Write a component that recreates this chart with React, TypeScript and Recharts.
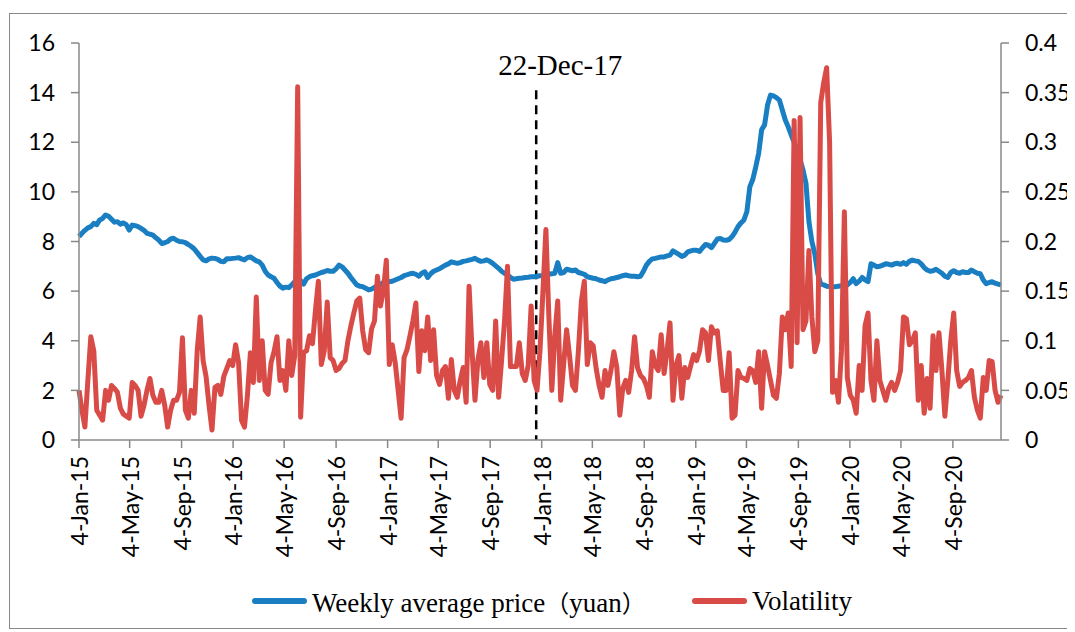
import { LineChart, Line, XAxis, YAxis, ReferenceLine, Legend } from "recharts";

// weekly observations, first week = 4-Jan-15
const price = [
  8.2, 8.33, 8.45, 8.55, 8.6, 8.73, 8.68, 8.87, 8.93, 9.07,
  9.02, 8.9, 8.78, 8.8, 8.7, 8.75, 8.68, 8.46, 8.66, 8.64,
  8.6, 8.53, 8.45, 8.33, 8.3, 8.26, 8.15, 8.06, 7.92, 7.95,
  8.0, 8.1, 8.13, 8.05, 8.0, 7.99, 7.95, 7.88, 7.8, 7.7,
  7.55, 7.4, 7.26, 7.22, 7.3, 7.33, 7.32, 7.28, 7.2, 7.18,
  7.3, 7.3, 7.32, 7.33, 7.35, 7.3, 7.26, 7.35, 7.38, 7.3,
  7.22, 7.18, 7.05, 6.8, 6.65, 6.58, 6.52, 6.35, 6.2, 6.12,
  6.16, 6.14, 6.25, 6.38, 6.45, 6.42, 6.28, 6.5, 6.58, 6.62,
  6.65, 6.7, 6.75, 6.78, 6.83, 6.8, 6.8, 6.9, 7.05, 6.98,
  6.85, 6.72, 6.55, 6.4, 6.25, 6.2, 6.18, 6.12, 6.05, 6.08,
  6.15, 6.2, 6.25, 6.35, 6.4, 6.38, 6.4, 6.45, 6.5, 6.55,
  6.62, 6.66, 6.7, 6.72, 6.68, 6.6, 6.72, 6.78, 6.55, 6.7,
  6.8, 6.85, 6.9, 6.98, 7.05, 7.1, 7.18, 7.15, 7.12, 7.15,
  7.2, 7.22, 7.25, 7.28, 7.32, 7.25, 7.2, 7.22, 7.26, 7.2,
  7.12, 7.02, 6.92, 6.8, 6.72, 6.65, 6.55, 6.48, 6.5, 6.52,
  6.53, 6.55, 6.56, 6.58, 6.58, 6.6, 6.62, 6.63, 6.65, 6.68,
  6.7, 6.72, 7.15, 6.72, 6.75, 6.88, 6.85, 6.82, 6.85, 6.75,
  6.72, 6.68, 6.58, 6.55, 6.52, 6.5, 6.45, 6.42, 6.38, 6.45,
  6.5, 6.52, 6.55, 6.58, 6.62, 6.65, 6.62, 6.6, 6.6, 6.58,
  6.6, 6.8, 7.05, 7.2, 7.3, 7.32, 7.35, 7.38, 7.38, 7.42,
  7.45, 7.62, 7.55, 7.48, 7.4, 7.45, 7.58, 7.62, 7.65, 7.65,
  7.6, 7.75, 7.88, 7.85, 7.75, 7.92, 8.1, 8.12, 8.06, 8.05,
  8.08, 8.2, 8.38, 8.6, 8.75, 8.87, 9.2, 10.2, 10.5, 11.0,
  11.56, 12.5, 12.7, 13.5, 13.9, 13.87, 13.8, 13.7, 13.3, 12.9,
  12.62, 12.3, 12.0, 11.7, 11.3, 10.88, 10.35, 8.8, 8.0, 7.5,
  6.7, 6.28, 6.25, 6.2, 6.18, 6.18, 6.18, 6.2, 6.22, 6.25,
  6.25, 6.35, 6.5, 6.3, 6.4, 6.55, 6.45, 6.38, 7.1, 7.05,
  6.98, 7.0, 7.05, 7.1, 7.08, 7.05, 7.1, 7.12, 7.08, 7.15,
  7.08, 7.2, 7.25, 7.22, 7.2, 7.1, 6.95, 6.85, 6.8, 6.82,
  6.88, 6.8, 6.72, 6.6, 6.55, 6.75, 6.82, 6.75, 6.72, 6.78,
  6.75, 6.75, 6.85, 6.78, 6.72, 6.7, 6.45, 6.3, 6.35, 6.38,
  6.32, 6.28, 6.25,
];

const volatility = [
  0.05, 0.03, 0.013, 0.06, 0.104, 0.09, 0.03, 0.025, 0.02, 0.05,
  0.04, 0.055, 0.052, 0.048, 0.032, 0.026, 0.024, 0.022, 0.058, 0.055,
  0.05, 0.024, 0.035, 0.05, 0.062, 0.045, 0.038, 0.038, 0.05, 0.035,
  0.013, 0.03, 0.04, 0.04, 0.048, 0.103, 0.03, 0.022, 0.05, 0.027,
  0.09, 0.124, 0.08, 0.064, 0.035, 0.01, 0.053, 0.055, 0.046, 0.064,
  0.072, 0.08, 0.075, 0.096, 0.078, 0.02, 0.013, 0.045, 0.088, 0.058,
  0.144, 0.06, 0.1, 0.05, 0.046, 0.078, 0.089, 0.104, 0.06, 0.07,
  0.05, 0.1, 0.065, 0.085, 0.356, 0.023, 0.088, 0.09, 0.105, 0.097,
  0.13, 0.16, 0.076, 0.09, 0.139, 0.083, 0.08, 0.07, 0.072, 0.077,
  0.08, 0.1, 0.115, 0.128, 0.14, 0.143, 0.11, 0.091, 0.088, 0.112,
  0.12, 0.165, 0.135, 0.15, 0.181, 0.076, 0.096, 0.078, 0.05, 0.022,
  0.083, 0.091, 0.105, 0.12, 0.138, 0.069, 0.11, 0.09, 0.124, 0.08,
  0.111, 0.065, 0.056, 0.07, 0.074, 0.042, 0.081, 0.05, 0.043, 0.06,
  0.073, 0.038, 0.155, 0.09, 0.04, 0.081, 0.098, 0.063, 0.098, 0.056,
  0.05, 0.12, 0.043, 0.08, 0.12, 0.175, 0.074, 0.074, 0.074, 0.098,
  0.067, 0.06, 0.075, 0.135, 0.06, 0.05, 0.09, 0.15, 0.212, 0.124,
  0.05, 0.105, 0.14, 0.04, 0.076, 0.111, 0.085, 0.055, 0.05, 0.09,
  0.14, 0.16, 0.076, 0.098, 0.095, 0.072, 0.055, 0.043, 0.07, 0.055,
  0.07, 0.089, 0.073, 0.025, 0.052, 0.06, 0.048, 0.07, 0.104, 0.073,
  0.065, 0.062, 0.055, 0.043, 0.089, 0.075, 0.07, 0.106, 0.067, 0.09,
  0.118, 0.04, 0.075, 0.085, 0.042, 0.073, 0.063, 0.075, 0.086, 0.08,
  0.09, 0.111, 0.108, 0.08, 0.114, 0.108, 0.11, 0.079, 0.05, 0.05,
  0.088, 0.022, 0.025, 0.07, 0.063, 0.062, 0.06, 0.072, 0.07, 0.058,
  0.089, 0.032, 0.089, 0.075, 0.06, 0.045, 0.042, 0.067, 0.124, 0.111,
  0.128, 0.074, 0.322, 0.098, 0.325, 0.111, 0.12, 0.191, 0.124, 0.089,
  0.1, 0.34, 0.36, 0.375, 0.3, 0.048, 0.06, 0.038, 0.089, 0.23,
  0.063, 0.045, 0.04, 0.027, 0.075, 0.05, 0.115, 0.128, 0.06, 0.04,
  0.1, 0.06, 0.05, 0.04, 0.052, 0.058, 0.05, 0.058, 0.07, 0.124,
  0.122, 0.096, 0.1, 0.108, 0.04, 0.075, 0.027, 0.062, 0.032, 0.105,
  0.07, 0.108, 0.07, 0.024, 0.06, 0.1, 0.128, 0.07, 0.054, 0.058,
  0.06, 0.063, 0.07, 0.043, 0.03, 0.022, 0.063, 0.05, 0.08, 0.079,
  0.05, 0.038, 0.045,
];

const dateTicks = [
  "4-Jan-15", "4-May-15", "4-Sep-15", "4-Jan-16", "4-May-16", "4-Sep-16",
  "4-Jan-17", "4-May-17", "4-Sep-17", "4-Jan-18", "4-May-18", "4-Sep-18",
  "4-Jan-19", "4-May-19", "4-Sep-19", "4-Jan-20", "4-May-20", "4-Sep-20",
];
const priceTicks = [0, 2, 4, 6, 8, 10, 12, 14, 16];
const volTicks = [0, 0.05, 0.1, 0.15, 0.2, 0.25, 0.3, 0.35, 0.4];
const markerDate = "22-Dec-17";

const BLUE = "#1a7ec2";
const RED = "#d94b47";
const AXIS = "#898989";
const TICK_FONT = "Lato, 'Liberation Sans', sans-serif";
const SERIF = "'Liberation Serif', 'Times New Roman', serif";
const CJK = "'Noto Sans CJK SC', sans-serif";

const MONTHS = ["Jan", "Feb", "Mar", "Apr", "May", "Jun", "Jul", "Aug", "Sep", "Oct", "Nov", "Dec"];
const START = Date.UTC(2015, 0, 4);

// "4-May-15" -> days since 4-Jan-15
function dayOf(label: string) {
  const [d, m, y] = label.split("-");
  return Math.round((Date.UTC(2000 + Number(y), MONTHS.indexOf(m), Number(d)) - START) / 86400000);
}

const tickDays = dateTicks.map(dayOf);
const labelByDay: Record<number, string> = {};
dateTicks.forEach((l, i) => (labelByDay[tickDays[i]] = l));

const data = price.map((p, i) => ({ day: i * 7, price: p, vol: volatility[i] }));
const lastDay = data[data.length - 1].day;

function DateTick(props: any) {
  const { x, y, payload } = props;
  return (
    <text
      x={0}
      y={0}
      transform={`translate(${x},${y + 4}) rotate(-90)`}
      textAnchor="end"
      dominantBaseline="central"
      fill="#000"
      fontSize={23}
      fontFamily={TICK_FONT}
    >
      {labelByDay[payload.value]}
    </text>
  );
}

function MarkerLabel(props: any) {
  const vb = props.viewBox || {};
  return (
    <text
      x={vb.x + 24}
      y={vb.y - 15}
      textAnchor="middle"
      fill="#000"
      fontSize={29}
      fontFamily={SERIF}
    >
      {markerDate}
    </text>
  );
}

function ChartLegend() {
  const swatch = (color: string) => (
    <span
      style={{
        display: "inline-block",
        width: 55,
        height: 6,
        borderRadius: 3,
        background: color,
        marginRight: 5,
      }}
    />
  );
  return (
    <div
      style={{
        display: "flex",
        alignItems: "center",
        height: 30,
        fontFamily: SERIF,
        fontSize: 27,
        color: "#000",
        whiteSpace: "nowrap",
      }}
    >
      <div style={{ width: 440, display: "flex", alignItems: "center" }}>
        {swatch(BLUE)}
        <span>
          Weekly average price<span style={{ fontFamily: CJK, fontSize: 24 }}>（</span>yuan
          <span style={{ fontFamily: CJK, fontSize: 24 }}>）</span>
        </span>
      </div>
      <div style={{ display: "flex", alignItems: "center" }}>
        {swatch(RED)}
        <span>Volatility</span>
      </div>
    </div>
  );
}

export default function App() {
  return (
    <div style={{ position: "relative", width: 1067, height: 624 }}>
      <div
        style={{
          position: "absolute",
          left: 1,
          top: 5,
          width: 1066,
          height: 616,
          border: `1px solid ${AXIS}`,
          boxSizing: "border-box",
        }}
      />
      <LineChart
        width={1067}
        height={620}
        data={data}
        margin={{ top: 35, right: 0, left: 0, bottom: 12 }}
        style={{ position: "absolute", left: 0, top: 0 }}
      >
        <XAxis
          dataKey="day"
          type="number"
          domain={[0, lastDay]}
          ticks={tickDays}
          interval={0}
          tick={<DateTick />}
          tickSize={8}
          tickMargin={4}
          height={146}
          axisLine={{ stroke: AXIS, strokeWidth: 1.5 }}
          tickLine={{ stroke: AXIS, strokeWidth: 1.5 }}
        />
        <YAxis
          yAxisId="left"
          domain={[0, 16]}
          ticks={priceTicks}
          interval={0}
          width={71}
          tickSize={8}
          tickMargin={16}
          tick={{ fill: "#000", fontSize: 23, fontFamily: TICK_FONT }}
          axisLine={{ stroke: AXIS, strokeWidth: 1.5 }}
          tickLine={{ stroke: AXIS, strokeWidth: 1.5 }}
        />
        <YAxis
          yAxisId="right"
          orientation="right"
          domain={[0, 0.4]}
          ticks={volTicks}
          interval={0}
          width={74}
          tickSize={8}
          tickMargin={16}
          tickFormatter={(v: number) => String(v)}
          tick={{ fill: "#000", fontSize: 23, fontFamily: TICK_FONT }}
          axisLine={{ stroke: AXIS, strokeWidth: 1.5 }}
          tickLine={{ stroke: AXIS, strokeWidth: 1.5 }}
        />
        <Legend
          verticalAlign="bottom"
          content={<ChartLegend />}
          wrapperStyle={{ left: 244, bottom: 12, width: 640, height: 30 }}
        />
        <ReferenceLine
          yAxisId="left"
          segment={[
            { x: dayOf(markerDate), y: 14.1 },
            { x: dayOf(markerDate), y: 0 },
          ]}
          stroke="#000"
          strokeWidth={2.5}
          strokeDasharray="9 6"
          label={<MarkerLabel />}
        />
        <Line
          yAxisId="left"
          type="linear"
          dataKey="price"
          stroke={BLUE}
          strokeWidth={5}
          strokeLinejoin="round"
          dot={false}
          isAnimationActive={false}
        />
        <Line
          yAxisId="right"
          type="linear"
          dataKey="vol"
          stroke={RED}
          strokeWidth={5}
          strokeLinejoin="round"
          dot={false}
          isAnimationActive={false}
        />
      </LineChart>
    </div>
  );
}
